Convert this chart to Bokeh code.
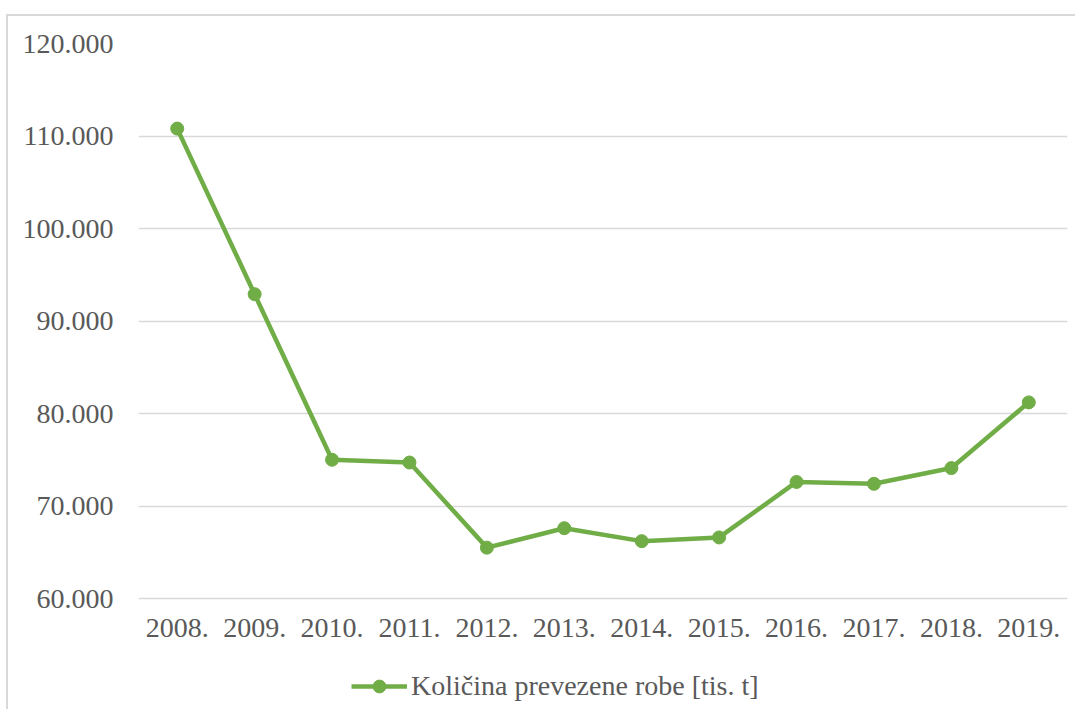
from bokeh.plotting import figure
from bokeh.models import FactorRange, Range1d, FixedTicker, Legend, LegendItem, ColumnDataSource
from bokeh.embed import file_html
from bokeh.resources import INLINE

years = ["2008.", "2009.", "2010.", "2011.", "2012.", "2013.", "2014.", "2015.", "2016.", "2017.", "2018.", "2019."]
values = [110800, 92900, 75000, 74700, 65500, 67600, 66200, 66600, 72600, 72400, 74100, 81200]
y_ticks = [60000, 70000, 80000, 90000, 100000, 110000, 120000]
series_name = "Količina prevezene robe [tis. t]"

GREEN = "#70AD47"
TXT = "#595959"
FONT = "Liberation Serif"

src = ColumnDataSource(dict(x=years, y=values))

# frame extends below the 60.000 line so the legend can sit inside it (not clipped)
p = figure(frame_width=929, frame_height=666, x_range=FactorRange(*years), y_range=Range1d(48000, 120000),
           output_backend="svg", toolbar_location=None,
           min_border_left=138, min_border_right=8, min_border_top=43, min_border_bottom=0)
p.outline_line_color = None
p.background_fill_color = "white"
p.border_fill_color = None
# Excel chart-area border (left and top edges visible), painted as CSS background behind the canvas
p.styles = {
    "background": "linear-gradient(#d9d9d9, #d9d9d9) 6px 14px / 2px 100% no-repeat, "
                  "linear-gradient(#d9d9d9, #d9d9d9) 6px 14px / 100% 2px no-repeat, white"
}

p.xgrid.grid_line_color = None
p.ygrid.grid_line_color = "#d9d9d9"
p.ygrid.grid_line_width = 1.5

p.yaxis.ticker = FixedTicker(ticks=y_ticks)
p.yaxis.major_label_overrides = {v: f"{v:,}".replace(",", ".") for v in y_ticks}
for ax in (p.xaxis, p.yaxis):
    ax.axis_line_color = None
    ax.major_tick_line_color = None
    ax.minor_tick_line_color = None
    ax.major_tick_in = 0
    ax.major_tick_out = 0
    ax.major_label_text_font = FONT
    ax.major_label_text_font_size = "28px"
    ax.major_label_text_color = TXT
p.yaxis.major_label_standoff = 25
p.xaxis.major_label_standoff = 20
p.xaxis.fixed_location = y_ticks[0]

r_line = p.line("x", "y", source=src, line_color=GREEN, line_width=4.5)
r_pts = p.scatter("x", "y", source=src, size=13, fill_color=GREEN, line_color=GREEN)

legend = Legend(items=[LegendItem(label=series_name, renderers=[r_line, r_pts])],
                location=(213, 7), orientation="horizontal",
                label_text_font=FONT, label_text_font_size="28px", label_text_color=TXT,
                glyph_width=56, glyph_height=32, label_standoff=4, padding=0, margin=0,
                border_line_color=None, background_fill_alpha=0)
p.add_layout(legend, "center")

open("out.html", "w").write(file_html(p, INLINE))
